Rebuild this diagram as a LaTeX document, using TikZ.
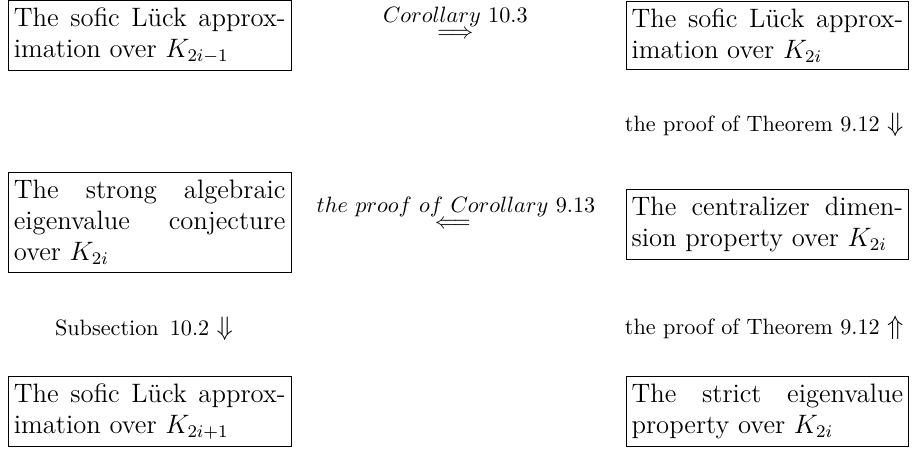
\documentclass[tikz,border=0pt]{standalone}
\usepackage{amsmath,amssymb}
\usepackage{tikz}
\usetikzlibrary{positioning}
\tikzset{claim/.style={draw=black, font=\large, text width=4.3cm, align=justify, inner xsep=2.5pt, inner ysep=3.3pt},
%labels sit right on the arrow glyphs
tag/.style={inner sep=0pt, outer sep=0pt}}

\begin{document}
\begin{tikzpicture}
        \useasboundingbox (0,0) rectangle (14.44,-7.20);

        % statements
        \node[claim] (soficOdd) at (2.37,-0.56) {The sofic Lück approx-\linebreak imation over $K_{2i-1}$};
        \node[claim] (soficEven) at (12.15,-0.56) {The sofic Lück approx-\linebreak imation over $K_{2i}$};
        \node[claim] (strong) at (2.37,-3.52) {The strong algebraic\linebreak eigenvalue conjecture\linebreak over $K_{2i}$};
        \node[claim] (central) at (12.15,-3.55) {The centralizer dimen-\linebreak sion property over $K_{2i}$};
        \node[claim] (soficNext) at (2.37,-6.51) {The sofic Lück approx-\linebreak imation over $K_{2i+1}$};
        \node[claim] (strict) at (12.15,-6.51) {The strict eigenvalue\linebreak property over $K_{2i}$};

        % horizontal implications
        \node[tag] (impTop) at (7.21,-0.54) {$\Longrightarrow$};
        \node[tag, above=1.5pt of impTop] (corTop) {$Corollary$ 10.3};
        \node[tag] (impMid) at (7.17,-3.55) {$\Longleftarrow$};
        \node[tag, above=1.5pt of impMid, xshift=0.05cm] (corMid) {$the\ proof\ of\ Corollary$ 9.13};

        % vertical implications
        \node (thmDown) at (12.10,-1.98) {the proof of Theorem 9.12 {\large$\Downarrow$}};
        \node (subDown) at (2.28,-5.20) {Subsection\enspace 10.2 {\large$\Downarrow$}};
        \node (thmUp) at (12.10,-5.19) {the proof of Theorem 9.12 {\large$\Uparrow$}};

    \end{tikzpicture}
\end{document}
